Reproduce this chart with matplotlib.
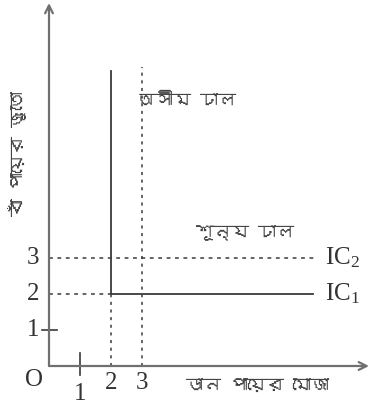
import matplotlib
matplotlib.use("Agg")
import matplotlib.pyplot as plt
from matplotlib import font_manager
from matplotlib.ft2font import FT2Font

plt.rcParams["mathtext.fontset"] = "custom"
plt.rcParams["mathtext.rm"] = "Liberation Serif"
plt.rcParams["mathtext.it"] = "Liberation Serif"


# Pick an installed family that has Bengali glyphs, if any
def bengali_family():
    for fe in font_manager.fontManager.ttflist:
        try:
            cmap = FT2Font(fe.fname).get_charmap()
        except Exception:
            continue
        if 0x0985 in cmap and 0x09BE in cmap:
            return fe.name
    return None


bn = bengali_family()
bn_family = [bn, "DejaVu Sans"] if bn else ["Noto Sans", "DejaVu Sans"]
serif = ["Liberation Serif", "DejaVu Serif"]

# Data
x_ticks = [1, 2, 3]
y_ticks = [1, 2, 3]
corner = (2, 2)            # kink of the L-shaped indifference curve IC1
ic1_top = 8.2              # vertical arm of IC1 ends here
ic_right = 8.5             # horizontal arm of IC1 ends here
ic2_level = 3
ic2_right = 8.6
guide_x = 3
guide_top = 8.3
x_label = "ডান পায়ের মোজা"
y_label = "বাঁ পায়ের জুতো"
inf_slope_label = "অসীম ঢাল"
zero_slope_label = "শূন্য ঢাল"

W, H = 370, 409
fig = plt.figure(figsize=(W / 100, H / 100), dpi=100)
ox, oy = 49, 366           # origin in pixels from the top-left corner
xs, ys = 31.0, 36.0        # pixels per unit
ax = fig.add_axes([ox / W, (H - oy) / H, (W - ox) / W, oy / H])
ax.set_xlim(0, (W - ox) / xs)
ax.set_ylim(0, oy / ys)
ax.axis("off")

axis_c = "#707070"
line_c = "#3a3a3a"

# Axes with open arrow heads
arrow = dict(arrowstyle="->", color=axis_c, lw=1.6, shrinkA=0, shrinkB=0,
             mutation_scale=14)
ax.annotate("", xy=((W - ox - 1) / xs, 0), xytext=(0, 0),
            arrowprops=arrow, annotation_clip=False)
ax.annotate("", xy=(0, (oy - 3) / ys), xytext=(0, 0),
            arrowprops=arrow, annotation_clip=False)

# IC1: L-shaped
ax.plot([corner[0], corner[0], ic_right], [ic1_top, corner[1], corner[1]],
        color=line_c, lw=1.3, clip_on=False)
# IC2: dashed level
ax.plot([0, ic2_right], [ic2_level, ic2_level], color=line_c, lw=1.1,
        ls=(0, (2.5, 3)), clip_on=False)
# guides
ax.plot([0, corner[0]], [corner[1], corner[1]], color=line_c, lw=1.1,
        ls=(0, (2.5, 3)))
ax.plot([corner[0], corner[0]], [0, corner[1]], color=line_c, lw=1.1,
        ls=(0, (2, 3)))
ax.plot([guide_x, guide_x], [0, guide_top], color=line_c, lw=1.1,
        ls=(0, (2, 3)), clip_on=False)

# ticks
ax.plot([x_ticks[0]] * 2, [-0.25, 0.36], color=line_c, lw=1.2, clip_on=False)
ax.plot([-0.23, 0.26], [y_ticks[0]] * 2, color=line_c, lw=1.2, clip_on=False)

tk = dict(family=serif, fontsize=18, color="#333333")
ax.text(-0.5, -0.4, "O", ha="center", va="center", **tk)
ax.text(x_ticks[0], -0.78, str(x_ticks[0]), ha="center", va="center", **tk)
for v in x_ticks[1:]:
    ax.text(v, -0.46, str(v), ha="center", va="center", **tk)
for v in y_ticks:
    ax.text(-0.3, v, str(v), ha="right", va="center", **tk)

ax.text(8.9, ic2_level, r"IC$_2$", ha="left", va="center", **tk)
ax.text(8.9, corner[1], r"IC$_1$", ha="left", va="center", **tk)

bt = dict(family=bn_family, fontsize=13, color="#444444")
ax.text(4.45, 7.4, inf_slope_label, ha="center", va="center", **bt)
ax.text(6.3, 3.7, zero_slope_label, ha="center", va="center", **bt)
ax.text(6.7, -0.55, x_label, ha="center", va="center", **bt)
ax.text(-1.06, 5.9, y_label, ha="center", va="center", rotation=90, **bt)

fig.savefig("out.png", dpi=100)
